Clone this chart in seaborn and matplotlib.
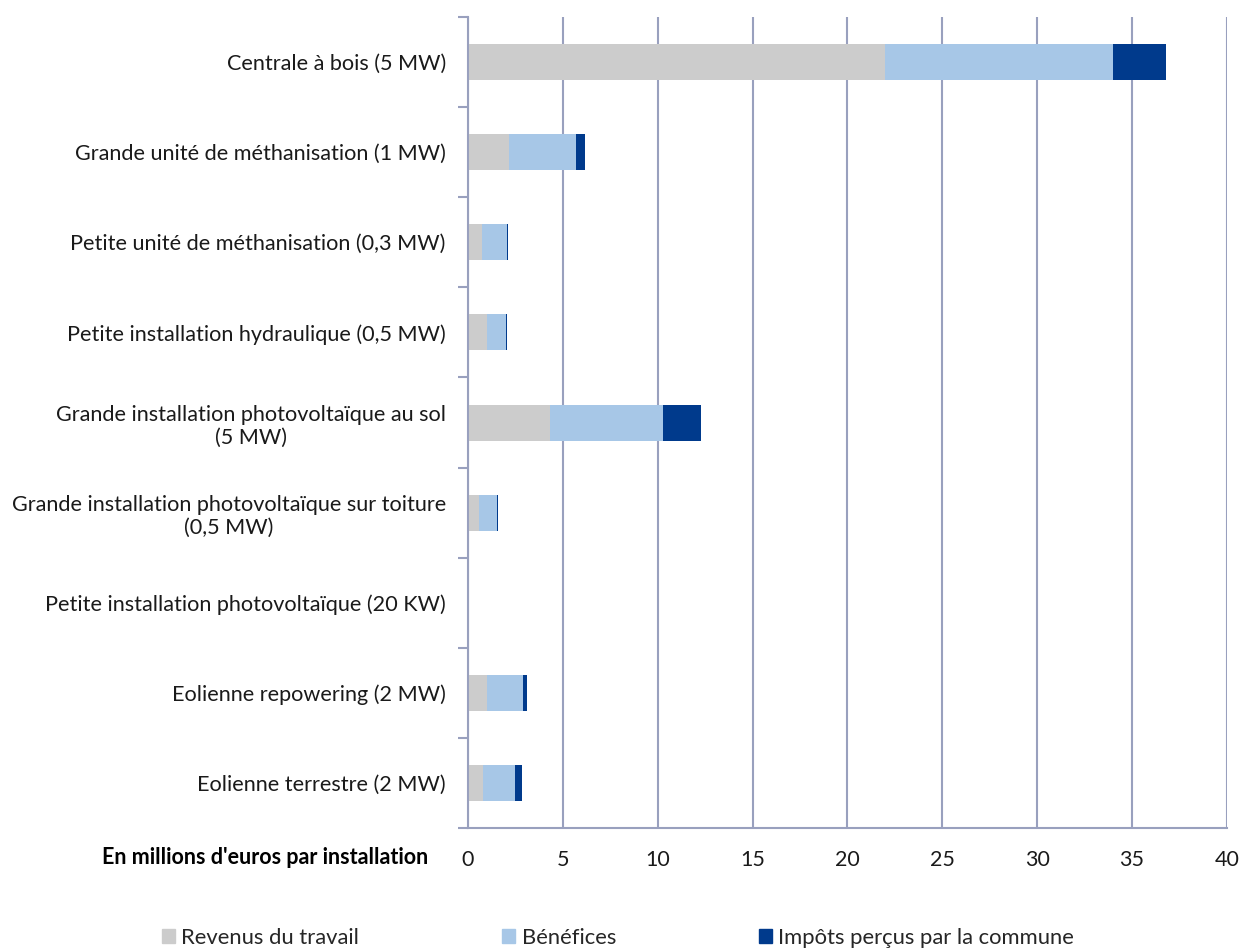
import seaborn as sns
import matplotlib.pyplot as plt
import pandas as pd
from matplotlib.patches import Patch

sns.set_theme(style="white")
plt.rcParams['font.family'] = ['Lato', 'DejaVu Sans']

# Data (millions d'euros par installation)
categories = [
    "Centrale à bois (5 MW)",
    "Grande unité de méthanisation (1 MW)",
    "Petite unité de méthanisation (0,3 MW)",
    "Petite installation hydraulique (0,5 MW)",
    "Grande installation photovoltaïque au sol\n(5 MW)",
    "Grande installation photovoltaïque sur toiture\n(0,5 MW)",
    "Petite installation photovoltaïque (20 KW)",
    "Eolienne repowering (2 MW)",
    "Eolienne terrestre (2 MW)",
]
revenus = [22.0, 2.17, 0.75, 1.02, 4.3, 0.6, 0.02, 1.02, 0.81]
benefices = [12.0, 3.51, 1.32, 1.0, 6.0, 0.91, 0.02, 1.87, 1.68]
impots = [2.8, 0.5, 0.05, 0.05, 2.0, 0.09, 0.005, 0.21, 0.35]
series_names = ["Revenus du travail", "Bénéfices", "Impôts perçus par la commune"]
colors = ["#CCCCCC", "#A7C7E7", "#003A8C"]

df = pd.DataFrame({"cat": categories, "rev": revenus, "ben": benefices, "imp": impots})
df["s1"] = df["rev"]
df["s2"] = df["rev"] + df["ben"]
df["s3"] = df["s2"] + df["imp"]

fig = plt.figure(figsize=(12.44, 9.51), dpi=100)
ax = fig.add_axes([0.3762, 0.1293, 0.6101, 0.8528])

# stacked bars: draw totals first, then partial sums on top
for col, c in zip(["s3", "s2", "s1"], colors[::-1]):
    sns.barplot(data=df, x=col, y="cat", orient="h", color=c, width=0.4,
                saturation=1, ax=ax, linewidth=0)

grid_col = "#99A0BE"
ax.set_xlim(0, 40)
ax.set_xticks(range(0, 41, 5))
ax.xaxis.grid(True, color=grid_col, linewidth=1.5)
ax.set_axisbelow(True)
for s in ["top", "right"]:
    ax.spines[s].set_visible(False)
for s in ["left", "bottom"]:
    ax.spines[s].set_color(grid_col)
    ax.spines[s].set_linewidth(1.5)

ax.tick_params(axis="x", direction="out", length=7, width=1.5, color=grid_col,
               labelsize=15.5, labelcolor="#1a1a1a", pad=9)
ax.set_yticks(range(len(categories)))
ax.set_yticklabels(categories, multialignment="center")
ax.tick_params(axis="y", length=0, labelsize=15.6, labelcolor="#1a1a1a", pad=16)
ax.set_yticks([i - 0.5 for i in range(len(categories) + 1)], minor=True)
ax.tick_params(axis="y", which="minor", direction="out", length=7, width=1.5,
               color=grid_col, left=True)
ax.set_ylim(len(categories) - 0.5, -0.5)
ax.set_xlabel("")
ax.set_ylabel("")

fig.text(428 / 1244, 1 - 858 / 951, "En millions d'euros par installation", ha="right",
         va="center", fontsize=15.5, fontweight="bold", color="black")

handles = [Patch(color=c) for c in colors]
fig.legend(handles, series_names, loc="center left", bbox_to_anchor=(0.114, 1 - 938 / 951),
           ncol=3, frameon=False, fontsize=15.8, handlelength=0.6, handleheight=0.6,
           handletextpad=0.3, columnspacing=6.5)

fig.savefig("out.png", dpi=100)
